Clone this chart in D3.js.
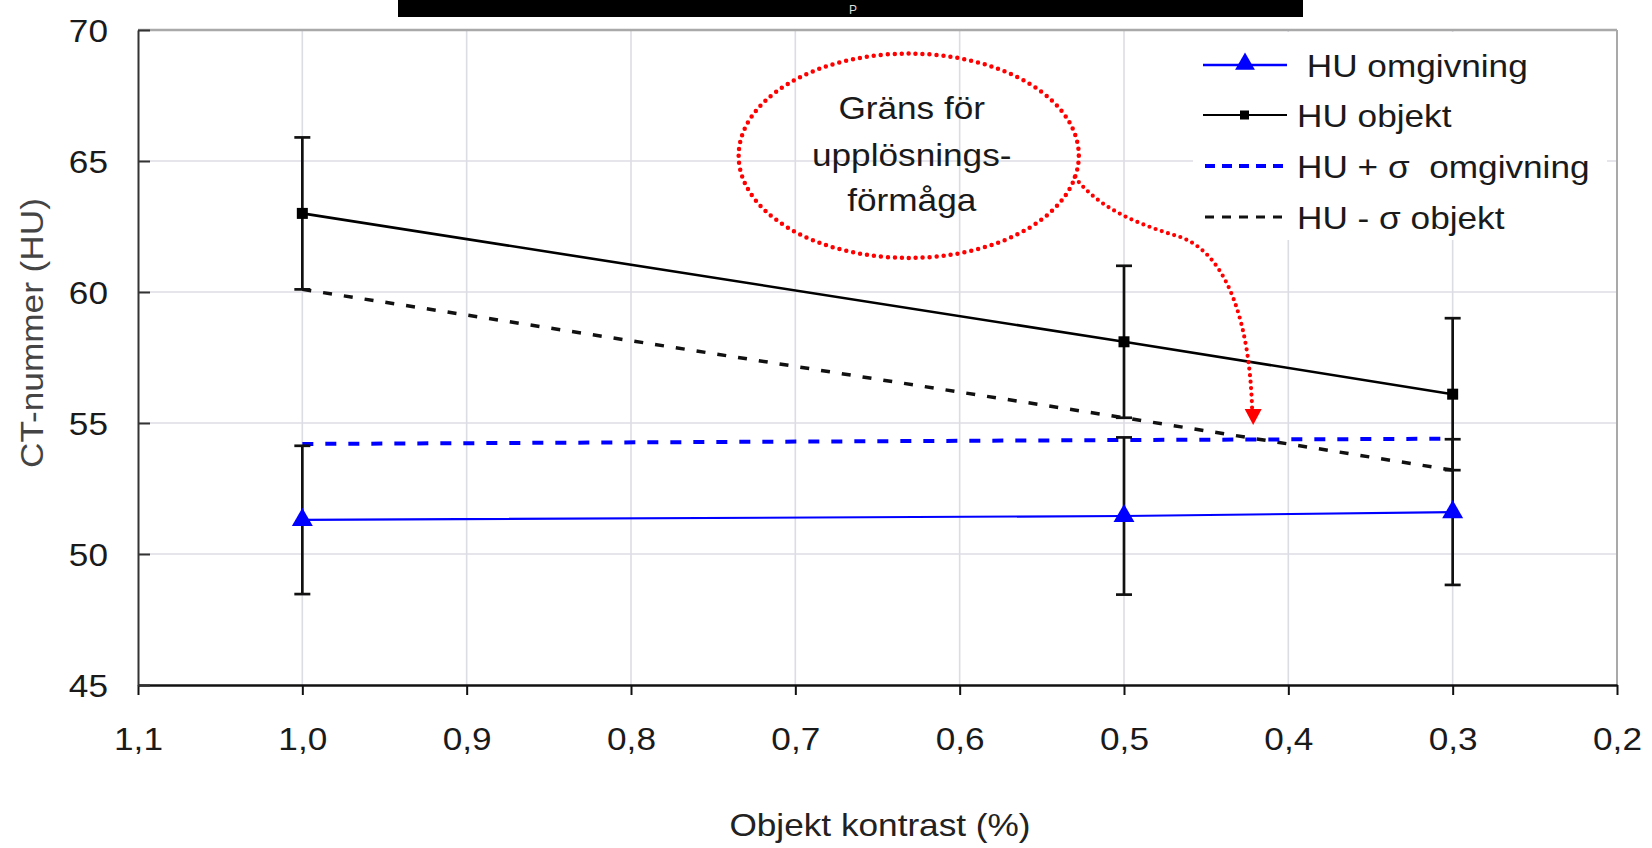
<!DOCTYPE html>
<html><head><meta charset="utf-8">
<script src="https://cdn.jsdelivr.net/npm/d3@7/dist/d3.min.js"></script>
<style>
html,body{margin:0;padding:0;background:#fff;}
svg{display:block;font-family:"Liberation Sans",Arial,sans-serif;}
text{white-space:pre;}
</style></head>
<body>
<svg id="chart" width="1652" height="848"></svg>
<script>
// ---- data ----
const contrast = [1.0, 0.5, 0.3];
const huObjekt = [63.0, 58.1, 56.1];
const huObjektErr = [2.9, 2.9, 2.9];
const huOmgivning = [51.3, 51.45, 51.6];
const huOmgivningErr = [2.83, 3.0, 2.78];
const huPlusSigmaOmgivning = [54.2, 54.35, 54.4];
const huMinusSigmaObjekt = [60.1, 55.2, 53.2];
const xTickValues = [1.1, 1.0, 0.9, 0.8, 0.7, 0.6, 0.5, 0.4, 0.3, 0.2];
const yTickValues = [45, 50, 55, 60, 65, 70];
const legendLabels = [" HU omgivning", "HU objekt", "HU + σ  omgivning", "HU - σ objekt"];
const xTitle = "Objekt kontrast (%)";
const yTitle = "CT-nummer (HU)";
const noteLines = ["Gräns för", "upplösnings-", "förmåga"];
// annotation anchor in data units
const noteCenter = [0.631, 65.2];
const noteRadius = [0.1035, 3.9];
const arrowPath = [[0.530, 64.39], [0.5145, 63.13], [0.490, 62.56], [0.4658, 62.10],
                   [0.4354, 61.41], [0.4232, 58.55], [0.422, 55.42]];
const arrowTip = [0.4214, 54.92];

// ---- layout ----
const L = 138, R = 1617, T = 30, B = 685;
const SX = 1.1;
const svg = d3.select("#chart");
const x = d3.scaleLinear().domain([1.1, 0.2]).range([L, R]);
const y = d3.scaleLinear().domain([45, 70]).range([B, T]);
const fmt = v => d3.format(".1f")(v).replace(".", ",");

// top black bar
svg.append("rect").attr("x", 398).attr("y", 0).attr("width", 905).attr("height", 17).attr("fill", "#000");
svg.append("text").attr("x", 853).attr("y", 14).attr("text-anchor", "middle")
  .attr("font-size", 12).attr("fill", "#ddd").text("P");

// gridlines
const grid = svg.append("g");
grid.selectAll("line.v").data(xTickValues.filter(v => v < 1.05 && v > 0.25)).join("line")
  .attr("x1", d => x(d)).attr("x2", d => x(d)).attr("y1", T).attr("y2", B)
  .attr("stroke", "#dcdce4").attr("stroke-width", 1.6);
grid.selectAll("line.h").data(yTickValues.filter(v => v > 45 && v < 70)).join("line")
  .attr("x1", L).attr("x2", R).attr("y1", d => y(d)).attr("y2", d => y(d))
  .attr("stroke", "#dcdce4").attr("stroke-width", 1.6);

// frame top / right
svg.append("line").attr("x1", L).attr("x2", R).attr("y1", T).attr("y2", T).attr("stroke", "#a9a9a9").attr("stroke-width", 2.5);
svg.append("line").attr("x1", R).attr("x2", R).attr("y1", T).attr("y2", B).attr("stroke", "#a9a9a9").attr("stroke-width", 2);

// legend background
svg.append("rect").attr("x", 1193).attr("y", 32).attr("width", 414).attr("height", 208).attr("fill", "#fff");

// axes
const xAxis = svg.append("g").attr("transform", `translate(0,${B})`)
  .call(d3.axisBottom(x).tickValues(xTickValues).tickSize(10).tickSizeOuter(0).tickPadding(30).tickFormat(fmt));
xAxis.select(".domain").attr("stroke", "#111").attr("stroke-width", 2.5);
xAxis.selectAll(".tick line").attr("stroke", "#111").attr("stroke-width", 2);
xAxis.selectAll(".tick text").attr("font-size", 32).attr("fill", "#1a1a1a")
  .attr("font-family", "Liberation Sans, Arial, sans-serif")
  .attr("dy", null).attr("y", 65).attr("transform", `scale(${SX},1)`);

const yAxis = svg.append("g").attr("transform", `translate(${L},0)`)
  .call(d3.axisLeft(y).tickValues(yTickValues).tickSize(-12).tickSizeOuter(0).tickPadding(30).tickFormat(d3.format("d")));
yAxis.select(".domain").attr("stroke", "#333").attr("stroke-width", 2);
yAxis.selectAll(".tick line").attr("stroke", "#333").attr("stroke-width", 2);
yAxis.selectAll(".tick text").attr("font-size", 32).attr("fill", "#1a1a1a")
  .attr("font-family", "Liberation Sans, Arial, sans-serif")
  .attr("x", -30 / SX).attr("dy", "0.36em").attr("transform", `scale(${SX},1)`);

// axis titles
svg.append("text").attr("transform", `translate(880,836) scale(${SX},1)`).attr("text-anchor", "middle")
  .attr("font-size", 32).attr("fill", "#222").text(xTitle);
svg.append("text").attr("transform", `translate(43,333) rotate(-90) scale(${SX},1)`).attr("text-anchor", "middle")
  .attr("font-size", 32).attr("fill", "#444").text(yTitle);

// series
const idx = d3.range(contrast.length);
const line = arr => d3.line().x(i => x(contrast[i])).y(i => y(arr[i]))(idx);

svg.append("path").attr("d", line(huMinusSigmaObjekt)).attr("fill", "none")
  .attr("stroke", "#111").attr("stroke-width", 3.5).attr("stroke-dasharray", "9,12");
svg.append("path").attr("d", line(huPlusSigmaOmgivning)).attr("fill", "none")
  .attr("stroke", "#0000ff").attr("stroke-width", 4).attr("stroke-dasharray", "11,12");
svg.append("path").attr("d", line(huObjekt)).attr("fill", "none")
  .attr("stroke", "#000").attr("stroke-width", 2.6);
svg.append("path").attr("d", line(huOmgivning)).attr("fill", "none")
  .attr("stroke", "#0000ff").attr("stroke-width", 2.2);

// error bars
function errBars(vals, errs) {
  const g = svg.append("g").attr("stroke", "#111").attr("stroke-width", 2.7);
  idx.forEach(i => {
    const cx = x(contrast[i]), y1 = y(vals[i] + errs[i]), y2 = y(vals[i] - errs[i]);
    g.append("line").attr("x1", cx).attr("x2", cx).attr("y1", y1).attr("y2", y2);
    g.append("line").attr("x1", cx - 8).attr("x2", cx + 8).attr("y1", y1).attr("y2", y1);
    g.append("line").attr("x1", cx - 8).attr("x2", cx + 8).attr("y1", y2).attr("y2", y2);
  });
}
errBars(huObjekt, huObjektErr);
errBars(huOmgivning, huOmgivningErr);

// markers
svg.append("g").selectAll("rect").data(idx).join("rect")
  .attr("x", i => x(contrast[i]) - 5.5).attr("y", i => y(huObjekt[i]) - 5.5)
  .attr("width", 11).attr("height", 11).attr("fill", "#000");
const tri = d3.symbol().type(d3.symbolTriangle).size(190);
svg.append("g").selectAll("path").data(idx).join("path")
  .attr("d", tri).attr("transform", i => `translate(${x(contrast[i])},${y(huOmgivning[i])})`)
  .attr("fill", "#0000ff");

// annotation
const ecx = x(noteCenter[0]), ecy = y(noteCenter[1]);
const erx = Math.abs(x(noteCenter[0] + noteRadius[0]) - ecx);
const ery = Math.abs(y(noteCenter[1] + noteRadius[1]) - ecy);
svg.append("ellipse").attr("cx", ecx).attr("cy", ecy).attr("rx", erx).attr("ry", ery)
  .attr("fill", "none").attr("stroke", "#ff0000").attr("stroke-width", 4.5)
  .attr("stroke-linecap", "round").attr("stroke-dasharray", "0,7");
const noteOffsets = [-37, 10, 55];
noteLines.forEach((t, i) => {
  svg.append("text").attr("transform", `translate(${ecx + 3},${ecy + noteOffsets[i]}) scale(${SX},1)`)
    .attr("text-anchor", "middle").attr("font-size", 32).attr("fill", "#1a1a1a").text(t);
});
const ap = arrowPath.map(p => [x(p[0]), y(p[1])]);
const pth = d3.path();
pth.moveTo(...ap[0]);
pth.bezierCurveTo(...ap[1], ...ap[2], ...ap[3]);
pth.bezierCurveTo(...ap[4], ...ap[5], ...ap[6]);
svg.append("path").attr("d", pth.toString()).attr("fill", "none").attr("stroke", "#ff0000")
  .attr("stroke-width", 4.2).attr("stroke-linecap", "round").attr("stroke-dasharray", "0,6.5");
const tx = x(arrowTip[0]), ty = y(arrowTip[1]);
svg.append("path").attr("d", `M${tx},${ty} L${tx - 8.5},${ty - 16} L${tx + 8.5},${ty - 16} Z`).attr("fill", "#ff0000");

// legend
const legY = [65, 115, 166, 217];
const lg = svg.append("g");
legendLabels.forEach((lab, i) => {
  const ly = legY[i];
  const ln = lg.append("line").attr("x1", 1203).attr("x2", 1287).attr("y1", ly).attr("y2", ly);
  if (i === 0) ln.attr("stroke", "#0000ff").attr("stroke-width", 2.5);
  if (i === 1) ln.attr("stroke", "#000").attr("stroke-width", 2.2);
  if (i === 2) ln.attr("stroke", "#0000ff").attr("stroke-width", 4).attr("stroke-dasharray", "10,7").attr("x1", 1205);
  if (i === 3) ln.attr("stroke", "#111").attr("stroke-width", 3).attr("stroke-dasharray", "9,8").attr("x1", 1205);
  if (i === 0) lg.append("path").attr("d", d3.symbol().type(d3.symbolTriangle).size(170))
    .attr("transform", `translate(1245,${ly - 1})`).attr("fill", "#0000ff");
  if (i === 1) lg.append("rect").attr("x", 1240).attr("y", ly - 4.5).attr("width", 9).attr("height", 9).attr("fill", "#000");
  lg.append("text").attr("transform", `translate(1297,${ly}) scale(${SX},1)`)
    .attr("dy", "0.36em").attr("font-size", 32).attr("fill", "#1a1a1a").text(lab);
});
</script>
</body></html>
